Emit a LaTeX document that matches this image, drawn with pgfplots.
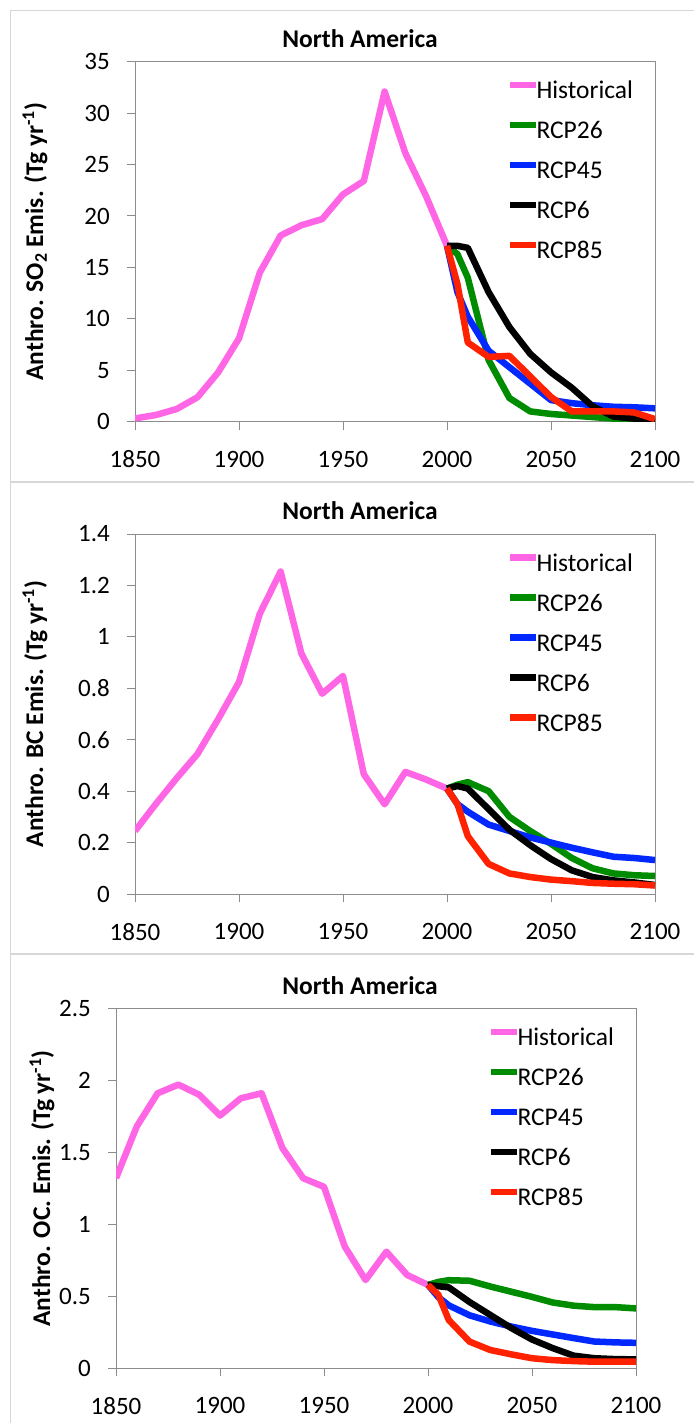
\documentclass[border=0pt]{standalone}
\usepackage{fontspec}
\setmainfont{Carlito}
\usepackage{pgfplots}
\pgfplotsset{compat=1.18}
\definecolor{histpink}{RGB}{255,102,230}
\definecolor{rcpA}{RGB}{0,140,0}
\definecolor{rcpB}{RGB}{0,40,255}
\definecolor{rcpD}{RGB}{255,34,0}
\definecolor{axgray}{RGB}{140,140,140}
\definecolor{framegray}{RGB}{215,215,215}
\pgfplotsset{
 panel/.style={
  scale only axis, width=520pt, height=360pt,
  xmin=1850, xmax=2100, ymin=0, xtick={1850,1900,1950,2000,2050,2100},
  axis line style={axgray, line width=1pt},
  tick style={axgray, line width=1pt},
  major tick length=8pt, tick align=outside,
  xtick pos=left, ytick pos=left,
  /pgf/number format/1000 sep={},
  /pgf/number format/assume math mode=true,
  tick label style={font=\fontsize{25}{30}\selectfont, inner sep=0pt},
  xticklabel style={yshift=-21pt},
  yticklabel style={xshift=-17pt},
  title style={font=\bfseries\fontsize{25.5}{30}\selectfont, anchor=center, inner sep=0pt},
  ylabel style={font=\bfseries\fontsize{25.5}{30}\selectfont, anchor=center, inner sep=0pt},
  legend style={draw=none, fill=none, inner sep=0pt, outer sep=0pt, anchor=north west,
    at={(0.7154,0.9472)},
    font=\fontsize{25.5}{30}\selectfont, nodes={inner sep=0pt, text height=18pt, text depth=6pt},
    row sep=16pt, column sep=-3pt},
  legend cell align=left,
  legend image code/.code={\draw[#1, line width=6.5pt] (0pt,7.5pt) -- (26pt,7.5pt);},
  every axis plot/.append style={line width=6.5pt, line join=round, no marks},
 }
}
\begin{document}
\begin{tikzpicture}
\useasboundingbox (0pt,0pt) rectangle (693pt,-1423pt);
\draw[framegray, line width=1.2pt] (10.7pt,-10.7pt) rectangle (710pt,-481.7pt);
\draw[framegray, line width=1.2pt] (10.7pt,-482.5pt) rectangle (710pt,-953.5pt);
\draw[framegray, line width=1.2pt] (10.7pt,-954.3pt) rectangle (710pt,-1440pt);

% Panel 1: SO2
\begin{axis}[panel, at={(135pt,-61.7pt)}, anchor=north west,
  ymax=35, ytick={0,5,10,15,20,25,30,35},
  title={North America}, title style={at={(0.4327,1.047)}},
  ylabel={Anthro. SO\textsubscript{2} Emis. (Tg yr\textsuperscript{-1})},
  ylabel style={at={(-0.1923,0.5)}}]
\addplot[histpink] coordinates {(1850,0.32)(1860,0.65)(1870,1.23)(1880,2.37)(1890,4.8)(1900,8.1)(1910,14.5)(1920,18.1)(1930,19.1)(1940,19.7)(1950,22.1)(1960,23.4)(1970,32.1)(1980,26.1)(1990,21.9)(2000,17.1)};
\addplot[rcpA] coordinates {(2000,17.1)(2005,16.3)(2010,14.0)(2020,6.0)(2030,2.3)(2040,1.0)(2050,0.75)(2060,0.6)(2070,0.45)(2080,0.3)(2090,0.15)(2100,0.05)};
\addplot[rcpB] coordinates {(2000,17.1)(2005,12.6)(2010,10.2)(2020,6.9)(2030,5.3)(2040,3.7)(2050,2.1)(2060,1.8)(2070,1.6)(2080,1.45)(2090,1.4)(2100,1.3)};
\addplot[black] coordinates {(2000,17.1)(2005,17.1)(2010,16.9)(2020,12.6)(2030,9.2)(2040,6.6)(2050,4.8)(2060,3.3)(2070,1.5)(2080,0.5)(2090,0.3)(2100,0.1)};
\addplot[rcpD] coordinates {(2000,17.1)(2005,13.4)(2010,7.7)(2020,6.3)(2030,6.4)(2040,4.4)(2050,2.4)(2060,1.0)(2070,1.0)(2080,1.0)(2090,0.9)(2100,0.25)};
\legend{Historical,RCP26,RCP45,RCP6,RCP85}
\end{axis}

% Panel 2: BC
\begin{axis}[panel, at={(135pt,-534pt)}, anchor=north west,
  ymax=1.4, ytick={0,0.2,0.4,0.6,0.8,1,1.2,1.4},
  title={North America}, title style={at={(0.4327,1.047)}},
  ylabel={Anthro. BC Emis. (Tg yr\textsuperscript{-1})},
  ylabel style={at={(-0.1923,0.5)}}]
\addplot[histpink] coordinates {(1850,0.245)(1860,0.35)(1870,0.45)(1880,0.544)(1890,0.68)(1900,0.824)(1910,1.09)(1920,1.254)(1930,0.935)(1940,0.779)(1950,0.848)(1960,0.466)(1970,0.349)(1980,0.475)(1990,0.445)(2000,0.41)};
\addplot[rcpA] coordinates {(2000,0.41)(2005,0.425)(2010,0.435)(2020,0.40)(2030,0.30)(2040,0.245)(2050,0.195)(2060,0.14)(2070,0.10)(2080,0.08)(2090,0.073)(2100,0.07)};
\addplot[rcpB] coordinates {(2000,0.41)(2005,0.35)(2010,0.32)(2020,0.27)(2030,0.245)(2040,0.22)(2050,0.20)(2060,0.18)(2070,0.162)(2080,0.145)(2090,0.14)(2100,0.132)};
\addplot[black] coordinates {(2000,0.41)(2005,0.42)(2010,0.41)(2020,0.33)(2030,0.25)(2040,0.19)(2050,0.136)(2060,0.092)(2070,0.066)(2080,0.053)(2090,0.045)(2100,0.035)};
\addplot[rcpD] coordinates {(2000,0.41)(2005,0.35)(2010,0.225)(2020,0.117)(2030,0.08)(2040,0.066)(2050,0.056)(2060,0.05)(2070,0.043)(2080,0.04)(2090,0.038)(2100,0.033)};
\legend{Historical,RCP26,RCP45,RCP6,RCP85}
\end{axis}

% Panel 3: OC
\begin{axis}[panel, at={(116pt,-1008.3pt)}, anchor=north west,
  ymax=2.5, ytick={0,0.5,1,1.5,2,2.5},
  title={North America}, title style={at={(0.4692,1.047)}},
  ylabel={Anthro. OC. Emis. (Tg yr\textsuperscript{-1})},
  ylabel style={at={(-0.1423,0.5)}}]
\addplot[histpink] coordinates {(1850,1.32)(1860,1.68)(1870,1.91)(1880,1.97)(1890,1.90)(1900,1.755)(1910,1.875)(1920,1.91)(1930,1.53)(1940,1.32)(1950,1.26)(1960,0.845)(1970,0.613)(1980,0.81)(1990,0.648)(2000,0.579)};
\addplot[rcpA] coordinates {(2000,0.579)(2005,0.60)(2010,0.612)(2020,0.608)(2030,0.568)(2040,0.532)(2050,0.496)(2060,0.457)(2070,0.435)(2080,0.425)(2090,0.425)(2100,0.416)};
\addplot[rcpB] coordinates {(2000,0.579)(2005,0.494)(2010,0.437)(2020,0.368)(2030,0.325)(2040,0.29)(2050,0.26)(2060,0.235)(2070,0.21)(2080,0.186)(2090,0.18)(2100,0.177)};
\addplot[black] coordinates {(2000,0.579)(2005,0.57)(2010,0.562)(2020,0.46)(2030,0.37)(2040,0.28)(2050,0.20)(2060,0.14)(2070,0.088)(2080,0.07)(2090,0.064)(2100,0.062)};
\addplot[rcpD] coordinates {(2000,0.579)(2005,0.51)(2010,0.335)(2020,0.185)(2030,0.127)(2040,0.097)(2050,0.07)(2060,0.057)(2070,0.05)(2080,0.046)(2090,0.046)(2100,0.046)};
\legend{Historical,RCP26,RCP45,RCP6,RCP85}
\end{axis}
\end{tikzpicture}
\end{document}
